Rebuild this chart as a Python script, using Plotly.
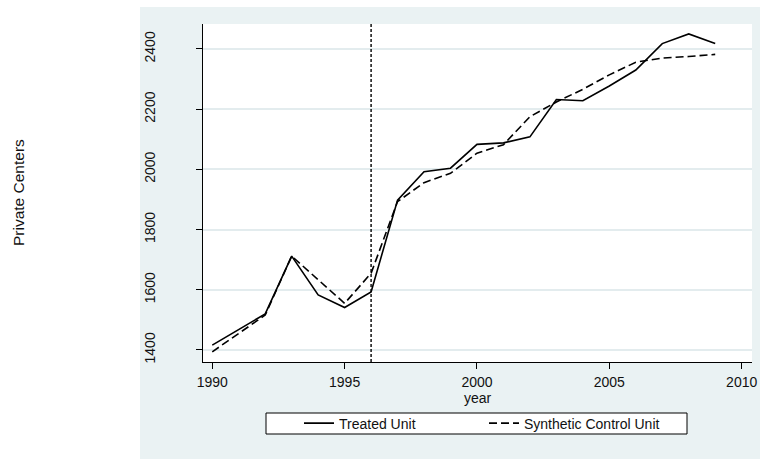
import plotly.graph_objects as go

years = list(range(1990, 2010))
treated = [1416, 1468, 1520, 1712, 1583, 1541, 1593, 1898, 1992, 2004,
           2083, 2088, 2108, 2232, 2228, 2277, 2330, 2418, 2450, 2418]
synthetic = [1394, 1455, 1516, 1712, 1633, 1555, 1655, 1893, 1956, 1987,
             2054, 2082, 2175, 2224, 2266, 2314, 2356, 2370, 2375, 2382]
treatment_year = 1996
x_ticks = [1990, 1995, 2000, 2005, 2010]
y_ticks = [1400, 1600, 1800, 2000, 2200, 2400]
series_names = ["Treated Unit", "Synthetic Control Unit"]

W, H = 760, 459
ML, MR, MT, MB = 203, 8, 24, 97
PW, PH = W - ML - MR, H - MT - MB

BG = "#EAF2F3"
GRID = "#E3ECEE"
FONT = "Liberation Sans, Arial, sans-serif"


def px_x(p):  # page pixel -> paper x
    return (p - ML) / PW


def px_y(p):  # page pixel -> paper y
    return (H - MB - p) / PH


fig = go.Figure()
fig.add_trace(go.Scatter(x=years, y=treated, mode="lines", name=series_names[0],
                         line=dict(color="black", width=1.6)))
fig.add_trace(go.Scatter(x=years, y=synthetic, mode="lines", name=series_names[1],
                         line=dict(color="black", width=1.6, dash="8px,4px")))

# graph region background (light bluish) and white plot region
fig.add_shape(type="rect", xref="paper", yref="paper", layer="below",
              x0=px_x(140), x1=px_x(762), y0=px_y(462), y1=px_y(7),
              fillcolor=BG, line=dict(width=0))
fig.add_shape(type="rect", xref="paper", yref="paper", layer="below",
              x0=0, x1=1, y0=0, y1=1,
              fillcolor="white", line=dict(width=0))
# legend frame
fig.add_shape(type="rect", xref="paper", yref="paper", layer="below",
              x0=px_x(266), x1=px_x(687), y0=px_y(434), y1=px_y(413),
              fillcolor="white", line=dict(color="black", width=1))

fig.add_vline(x=treatment_year, line=dict(color="black", width=1.4, dash="3px,2px"))

fig.add_annotation(text="Private Centers", xref="paper", yref="paper",
                   x=px_x(18), y=0.5, textangle=-90, showarrow=False,
                   font=dict(family=FONT, size=15.5, color="#111"),
                   xanchor="center", yanchor="middle")
fig.add_annotation(text="year", xref="paper", yref="paper",
                   x=0.5, y=px_y(397.5), showarrow=False,
                   font=dict(family=FONT, size=14, color="#111"),
                   xanchor="center", yanchor="middle")

fig.update_layout(
    width=W, height=H,
    margin=dict(l=ML, r=MR, t=MT, b=MB, autoexpand=False),
    paper_bgcolor="rgba(0,0,0,0)", plot_bgcolor="white",
    font=dict(family=FONT, size=14, color="#111"),
    showlegend=True,
    legend=dict(orientation="h", xanchor="left", x=px_x(299), yanchor="top", y=px_y(407.5),
                bgcolor="rgba(0,0,0,0)", borderwidth=0,
                font=dict(family=FONT, size=14, color="#111"),
                entrywidth=140, entrywidthmode="pixels", tracegroupgap=0),
    xaxis=dict(range=[1989.65, 2010.39], tickvals=x_ticks, showgrid=False,
               showline=True, linecolor="black", linewidth=1.2,
               ticks="outside", ticklen=6, tickwidth=1.2, tickcolor="black",
               ticklabelstandoff=1, zeroline=False),
    yaxis=dict(range=[1360.1, 2483], tickvals=y_ticks, showgrid=True,
               gridcolor=GRID, gridwidth=1.6,
               showline=True, linecolor="black", linewidth=1.2,
               ticks="outside", ticklen=6, tickwidth=1.2, tickcolor="black",
               tickangle=-90, ticklabelstandoff=35, zeroline=False),
)

fig.write_html(
    "out.html",
    config={"displayModeBar": False},
    post_script=("document.documentElement.style.overflow='hidden';"
                 "document.body.style.overflow='hidden';"
                 "document.body.style.margin='0';"),
)
